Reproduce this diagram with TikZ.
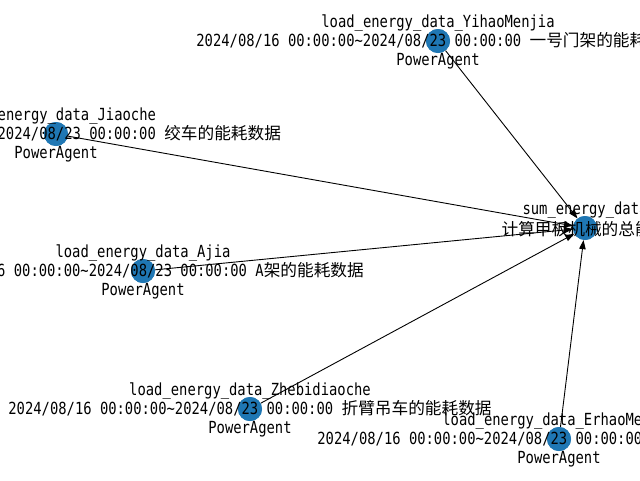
\documentclass[tikz,border=0pt]{standalone}
\usepackage{fontspec}
\setmainfont{DejaVu Sans Mono}[FakeStretch=0.83]
\newfontfamily\cjk{Noto Sans CJK SC}
\usetikzlibrary{arrows.meta}
\definecolor{mplblue}{HTML}{1F77B4}
\tikzset{
  agent/.style={circle, fill=mplblue, minimum size=24pt, inner sep=0pt},
  lbl/.style={align=center, inner sep=0pt, font=\fontsize{16.67}{19}\selectfont},
  flow/.style={draw=black, line width=0.9pt, -{Triangle[length=9pt,width=6.5pt]}}
}
\begin{document}
\begin{tikzpicture}[x=1pt,y=-1pt]
\path[use as bounding box, clip] (0,0) rectangle (640,480);
\fill[white] (0,0) rectangle (640,480);
% nodes
\node[agent] (Y) at (438,41) {};
\node[agent] (J) at (56,134) {};
\node[agent] (A) at (143,271) {};
\node[agent] (S) at (585,228) {};
\node[agent] (Z) at (250,409) {};
\node[agent] (E) at (559,439) {};
% edges
\begin{scope}[on background layer/.style={}]
\end{scope}
\draw[flow] (Y) -- (S);
\draw[flow] (J) -- (S);
\draw[flow] (A) -- (S);
\draw[flow] (Z) -- (S);
\draw[flow] (E) -- (S);
% redraw circles on top of edges
\node[agent] at (Y) {};
\node[agent] at (J) {};
\node[agent] at (A) {};
\node[agent] at (S) {};
\node[agent] at (Z) {};
\node[agent] at (E) {};
% labels
\node[lbl] (tY) at (438,42) {load\_energy\_data\_YihaoMenjia\\2024/08/16 00:00:00\textasciitilde 2024/08/23 00:00:00 {\cjk 一号门架的能耗数据}\\PowerAgent};
\node[lbl] (tJ) at (56,135) {load\_energy\_data\_Jiaoche\\2024/08/16 00:00:00\textasciitilde 2024/08/23 00:00:00 {\cjk 绞车的能耗数据}\\PowerAgent};
\node[lbl] (tA) at (143,272) {load\_energy\_data\_Ajia\\2024/08/16 00:00:00\textasciitilde 2024/08/23 00:00:00 A{\cjk 架的能耗数据}\\PowerAgent};
\node[lbl, anchor=south] (tS1) at (585,219) {sum\_energy\_data};
\node[lbl] (tS2) at (585,229) {\cjk 计算甲板机械的总能耗};
\node[lbl] (tZ) at (250,410) {load\_energy\_data\_Zhebidiaoche\\2024/08/16 00:00:00\textasciitilde 2024/08/23 00:00:00 {\cjk 折臂吊车的能耗数据}\\PowerAgent};
\node[lbl] (tE) at (559,440) {load\_energy\_data\_ErhaoMenjia\\2024/08/16 00:00:00\textasciitilde 2024/08/23 00:00:00 {\cjk 二号门架的能耗数据}\\PowerAgent};
\end{tikzpicture}
\end{document}
